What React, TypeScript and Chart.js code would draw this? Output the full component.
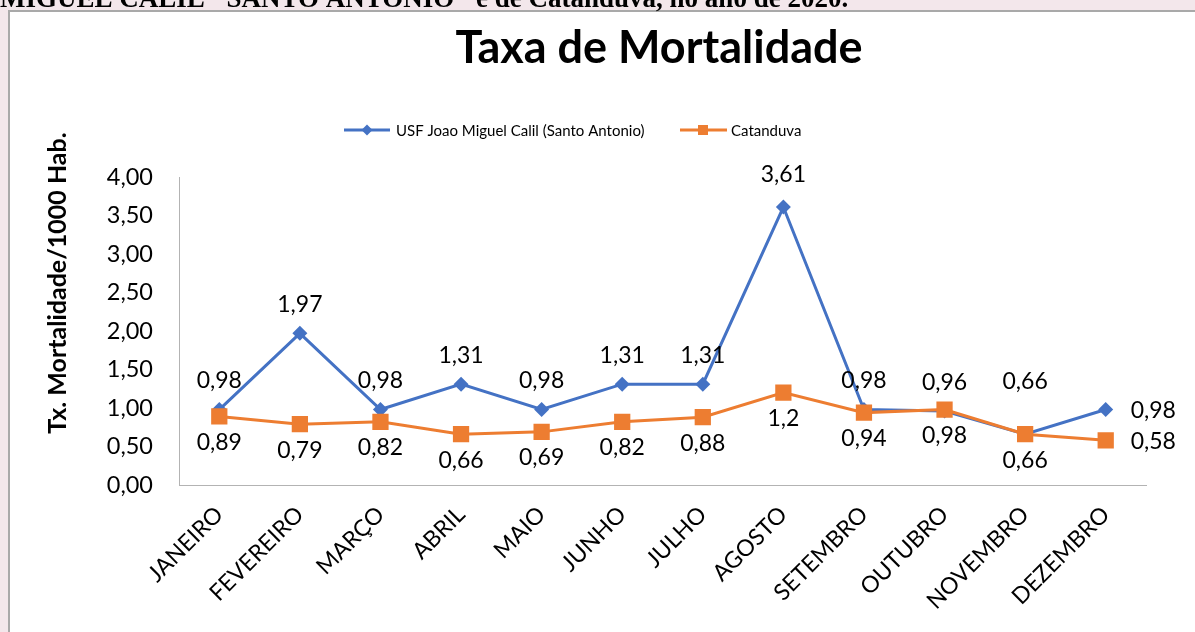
import React, { useEffect, useRef } from "react";
import { Chart, registerables } from "chart.js";

Chart.register(...registerables);

const months = [
  "JANEIRO",
  "FEVEREIRO",
  "MARÇO",
  "ABRIL",
  "MAIO",
  "JUNHO",
  "JULHO",
  "AGOSTO",
  "SETEMBRO",
  "OUTUBRO",
  "NOVEMBRO",
  "DEZEMBRO",
];
const usfValues = [0.98, 1.97, 0.98, 1.31, 0.98, 1.31, 1.31, 3.61, 0.98, 0.96, 0.66, 0.98];
const catanduvaValues = [0.89, 0.79, 0.82, 0.66, 0.69, 0.82, 0.88, 1.2, 0.94, 0.98, 0.66, 0.58];
const seriesNames = ["USF Joao Miguel Calil (Santo Antonio)", "Catanduva"];
const yMin = 0;
const yMax = 4;
const yStep = 0.5;

const titleText = "Taxa de Mortalidade";
const yAxisTitle = "Tx. Mortalidade/1000 Hab.";
const headerText = 'MIGUEL CALIL "SANTO ANTONIO" e de Catanduva, no ano de 2020.';

const BLUE = "#4472C4";
const ORANGE = "#ED7D31";
const FONT = "Lato, 'Open Sans', sans-serif";

const fmt = (v: number) => String(v).replace(".", ",");

export default function App() {
  const ref = useRef<HTMLCanvasElement | null>(null);

  useEffect(() => {
    document.documentElement.style.overflow = "hidden";
    document.body.style.margin = "0";
    document.body.style.overflow = "hidden";
    const canvas = ref.current;
    if (!canvas) return;

    const decorPlugin = {
      id: "decor",
      beforeDraw(chart: any) {
        const ctx = chart.ctx as CanvasRenderingContext2D;
        ctx.save();
        // page background, white chart box and its border
        ctx.fillStyle = "#f3e7eb";
        ctx.fillRect(0, 0, chart.width, chart.height);
        ctx.fillStyle = "#ffffff";
        ctx.fillRect(9, 11, chart.width, chart.height);
        ctx.fillStyle = "#a9a9a9";
        ctx.fillRect(8, 10, chart.width, 2);
        ctx.fillRect(8, 10, 2, chart.height);
        // header text (cut off at the top of the page)
        ctx.fillStyle = "#000";
        ctx.font = "bold 27px 'Liberation Serif', 'Times New Roman', serif";
        ctx.textAlign = "left";
        ctx.textBaseline = "alphabetic";
        ctx.fillText(headerText, 0, 7);
        ctx.restore();
      },
      afterDraw(chart: any) {
        const ctx = chart.ctx as CanvasRenderingContext2D;
        ctx.save();
        ctx.fillStyle = "#000";
        ctx.font = `bold 45px ${FONT}`;
        ctx.textAlign = "center";
        ctx.textBaseline = "alphabetic";
        ctx.fillText(titleText, 659, 63);

        ctx.save();
        ctx.translate(58, 283);
        ctx.rotate(-Math.PI / 2);
        ctx.font = `bold 25px ${FONT}`;
        ctx.textAlign = "center";
        ctx.textBaseline = "middle";
        ctx.fillText(yAxisTitle, 0, 0);
        ctx.restore();

        const ly = 130;
        ctx.font = `15px ${FONT}`;
        ctx.textAlign = "left";
        ctx.textBaseline = "middle";
        ctx.strokeStyle = BLUE;
        ctx.lineWidth = 3;
        ctx.beginPath();
        ctx.moveTo(344, ly);
        ctx.lineTo(390, ly);
        ctx.stroke();
        ctx.fillStyle = BLUE;
        ctx.beginPath();
        ctx.moveTo(367 - 5.5, ly);
        ctx.lineTo(367, ly - 5.5);
        ctx.lineTo(367 + 5.5, ly);
        ctx.lineTo(367, ly + 5.5);
        ctx.closePath();
        ctx.fill();
        ctx.fillStyle = "#000";
        ctx.fillText(seriesNames[0], 396, ly + 1);
        ctx.strokeStyle = ORANGE;
        ctx.beginPath();
        ctx.moveTo(680, ly);
        ctx.lineTo(727, ly);
        ctx.stroke();
        ctx.fillStyle = ORANGE;
        ctx.fillRect(703 - 5, ly - 5, 10, 10);
        ctx.fillStyle = "#000";
        ctx.fillText(seriesNames[1], 731, ly + 1);
        ctx.restore();
      },
      afterDatasetsDraw(chart: any) {
        const ctx = chart.ctx as CanvasRenderingContext2D;
        ctx.save();
        ctx.font = `23px ${FONT}`;
        ctx.fillStyle = "#000";
        ctx.textBaseline = "middle";
        const n = months.length;
        const all = [usfValues, catanduvaValues];
        chart.data.datasets.forEach((ds: any, di: number) => {
          const meta = chart.getDatasetMeta(di);
          meta.data.forEach((pt: any, i: number) => {
            const v = ds.data[i] as number;
            let x = pt.x;
            let y = pt.y;
            if (i === n - 1) {
              ctx.textAlign = "left";
              x += 25;
              y += 1;
            } else {
              ctx.textAlign = "center";
              if (di === 0) {
                const other = all[1][i];
                y -= other === v ? 53 : v > 3 ? 32 : 29;
              } else {
                y += 26;
              }
            }
            ctx.fillText(fmt(v), x, y);
          });
        });
        ctx.restore();
      },
    };

    const chart = new Chart(canvas, {
      type: "line",
      data: {
        labels: months,
        datasets: [
          {
            label: seriesNames[0],
            data: usfValues,
            borderColor: BLUE,
            backgroundColor: BLUE,
            borderWidth: 3,
            pointStyle: "rectRot",
            pointRadius: 7.5,
            pointBorderWidth: 0,
            pointBackgroundColor: BLUE,
            tension: 0,
            order: 1,
          },
          {
            label: seriesNames[1],
            data: catanduvaValues,
            borderColor: ORANGE,
            backgroundColor: ORANGE,
            borderWidth: 3,
            pointStyle: "rect",
            pointRadius: 11.5,
            pointBorderWidth: 0,
            pointBackgroundColor: ORANGE,
            tension: 0,
            order: 0,
          },
        ],
      },
      options: {
        responsive: false,
        animation: false,
        devicePixelRatio: 1,
        layout: { padding: { left: 0, right: 49, top: 177, bottom: 0 } },
        plugins: {
          legend: { display: false },
          title: { display: false },
          tooltip: { enabled: false },
        },
        scales: {
          x: {
            offset: true,
            grid: { display: false, drawTicks: false },
            border: { display: true, color: "#b3b3b3", width: 1 },
            ticks: {
              autoSkip: false,
              minRotation: 45,
              maxRotation: 45,
              color: "#000",
              font: { family: FONT, size: 23 },
              padding: 16,
            },
            afterFit: (s: any) => {
              s.height = 147;
            },
          },
          y: {
            min: yMin,
            max: yMax,
            grid: { display: false, drawTicks: false },
            border: { display: true, color: "#b3b3b3", width: 1 },
            ticks: {
              stepSize: yStep,
              color: "#000",
              font: { family: FONT, size: 23.5 },
              padding: 26,
              callback: (v: any) => Number(v).toFixed(2).replace(".", ","),
            },
            afterFit: (s: any) => {
              s.width = 179;
            },
          },
        },
      },
      plugins: [decorPlugin],
    } as any);

    return () => chart.destroy();
  }, []);

  return (
    <div
      style={{
        position: "fixed",
        left: 0,
        top: 0,
        width: 1195,
        height: 632,
        overflow: "hidden",
        background: "#f3e7eb",
      }}
    >
      <canvas
        ref={ref}
        width={1195}
        height={632}
        style={{ position: "absolute", left: 0, top: 0, width: 1195, height: 632, display: "block" }}
      />
    </div>
  );
}
